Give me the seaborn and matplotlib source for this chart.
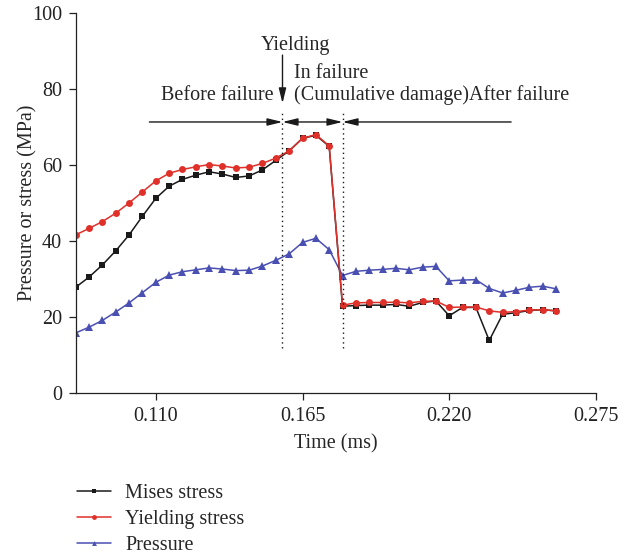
import matplotlib
matplotlib.use("Agg")
import matplotlib.pyplot as plt
from matplotlib.lines import Line2D
import pandas as pd
import seaborn as sns

time_ms = [0.080, 0.085, 0.090, 0.095, 0.100, 0.105, 0.110, 0.115, 0.120, 0.125,
           0.130, 0.135, 0.140, 0.145, 0.150, 0.155, 0.160, 0.165, 0.170, 0.175,
           0.180, 0.185, 0.190, 0.195, 0.200, 0.205, 0.210, 0.215, 0.220, 0.225,
           0.230, 0.235, 0.240, 0.245, 0.250, 0.255, 0.260]

mises_stress = [27.9, 30.6, 33.8, 37.5, 41.7, 46.6, 51.3, 54.5, 56.3, 57.4,
                58.3, 57.7, 56.8, 57.2, 58.8, 61.3, 63.8, 67.1, 67.9, 65.0,
                22.9, 23.1, 23.2, 23.2, 23.4, 22.9, 23.9, 24.3, 20.4, 22.6,
                22.6, 13.9, 20.8, 21.2, 21.8, 22.0, 21.7]

yielding_stress = [41.7, 43.4, 45.2, 47.4, 50.1, 53.0, 55.9, 57.9, 58.9, 59.6,
                   60.2, 59.8, 59.3, 59.5, 60.5, 61.9, 63.8, 67.1, 68.1, 65.1,
                   23.2, 23.8, 23.9, 23.9, 24.0, 23.8, 24.2, 24.3, 22.6, 22.7,
                   22.7, 21.7, 21.3, 21.5, 21.9, 22.0, 21.7]

pressure = [15.9, 17.4, 19.2, 21.4, 23.8, 26.5, 29.2, 31.1, 32.0, 32.5,
            33.0, 32.7, 32.3, 32.4, 33.5, 35.0, 36.7, 39.7, 40.8, 37.8,
            31.0, 32.1, 32.4, 32.6, 32.9, 32.5, 33.2, 33.4, 29.6, 29.8,
            29.9, 27.6, 26.4, 27.1, 27.9, 28.2, 27.5]

x_ticks = [0.110, 0.165, 0.220, 0.275]
x_tick_labels = ["0.110", "0.165", "0.220", "0.275"]
y_ticks = [0, 20, 40, 60, 80, 100]

# phase boundaries (ms)
yield_t = 0.1575
failure_t = 0.180

sns.set_theme(style="ticks")
plt.rcParams["font.family"] = ["Liberation Serif", "DejaVu Serif"]
plt.rcParams["font.size"] = 14.5
plt.rcParams["axes.edgecolor"] = "#222222"
plt.rcParams["xtick.color"] = "#222222"
plt.rcParams["ytick.color"] = "#222222"

FS = 14.5
BLACK = "#1a1a1a"
RED = "#e0302a"
BLUE = "#4a50b2"

df = pd.DataFrame({"t": time_ms, "mises": mises_stress,
                   "yield": yielding_stress, "pressure": pressure})

fig = plt.figure(figsize=(6.26, 5.59), dpi=100)
ax = fig.add_axes([0.121, 0.2964, 0.831, 0.6798])

sns.lineplot(data=df, x="t", y="pressure", ax=ax, color=BLUE, marker="^",
             markersize=5.5, markeredgewidth=0, linewidth=1.1)
sns.lineplot(data=df, x="t", y="mises", ax=ax, color=BLACK, marker="s",
             markersize=4, markeredgewidth=0, linewidth=1.1)
sns.lineplot(data=df, x="t", y="yield", ax=ax, color=RED, marker="o",
             markersize=5, markeredgewidth=0, linewidth=1.1)

ax.set_xlim(0.080, 0.275)
ax.set_ylim(0, 100)
ax.set_xticks(x_ticks)
ax.set_xticklabels(x_tick_labels)
ax.set_yticks(y_ticks)
ax.tick_params(axis="both", direction="out", length=5, width=0.9,
               labelsize=FS, pad=5)
for side in ("top", "right"):
    ax.spines[side].set_visible(False)
for side in ("left", "bottom"):
    ax.spines[side].set_linewidth(0.9)

ax.set_xlabel("Time (ms)", fontsize=FS, labelpad=6)
ax.set_ylabel("Pressure or stress (MPa)", fontsize=FS)
ax.yaxis.set_label_coords(-0.074, 0.5)

# dotted phase boundaries
for xb in (yield_t, failure_t):
    ax.plot([xb, xb], [11.8, 74.1], color=BLACK, linewidth=1.0,
            linestyle=(0, (1, 2.5)))

# phase span arrows
arrow_y = 71.4
style = dict(color=BLACK, lw=1.0, shrinkA=0, shrinkB=0, mutation_scale=10)
head = "head_length=0.9,head_width=0.22"
ax.annotate("", xy=(yield_t, arrow_y), xytext=(0.1076, arrow_y),
            arrowprops=dict(arrowstyle="-|>," + head, **style))
ax.annotate("", xy=(failure_t, arrow_y), xytext=(yield_t, arrow_y),
            arrowprops=dict(arrowstyle="<|-|>," + head, **style))
ax.annotate("", xy=(failure_t, arrow_y), xytext=(0.2432, arrow_y),
            arrowprops=dict(arrowstyle="-|>," + head, **style))

# yielding marker arrow
ax.annotate("", xy=(yield_t, 76.3), xytext=(yield_t, 89.0),
            arrowprops=dict(arrowstyle="-|>," + head, **style))

ax.text(0.1492, 90.3, "Yielding", ha="left", va="baseline", fontsize=FS)
ax.text(0.1617, 82.9, "In failure", ha="left", va="baseline", fontsize=FS)
ax.text(0.1617, 77.2, "(Cumulative damage)After failure", ha="left",
        va="baseline", fontsize=FS)
ax.text(0.1541, 77.2, "Before failure", ha="right", va="baseline", fontsize=FS)

handles = [
    Line2D([], [], color=BLACK, marker="s", markersize=3, linewidth=1.1, markeredgewidth=0),
    Line2D([], [], color=RED, marker="o", markersize=3.5, linewidth=1.1, markeredgewidth=0),
    Line2D([], [], color=BLUE, marker="^", markersize=3.5, linewidth=1.1, markeredgewidth=0),
]
labels = ["Mises stress", "Yielding stress", "Pressure"]
fig.legend(handles, labels, loc="upper left", bbox_to_anchor=(0.1225, 0.134),
           frameon=False, fontsize=FS, handlelength=1.7, handletextpad=0.7,
           labelspacing=0.35, borderaxespad=0, borderpad=0)

fig.savefig("out.png", dpi=100)
